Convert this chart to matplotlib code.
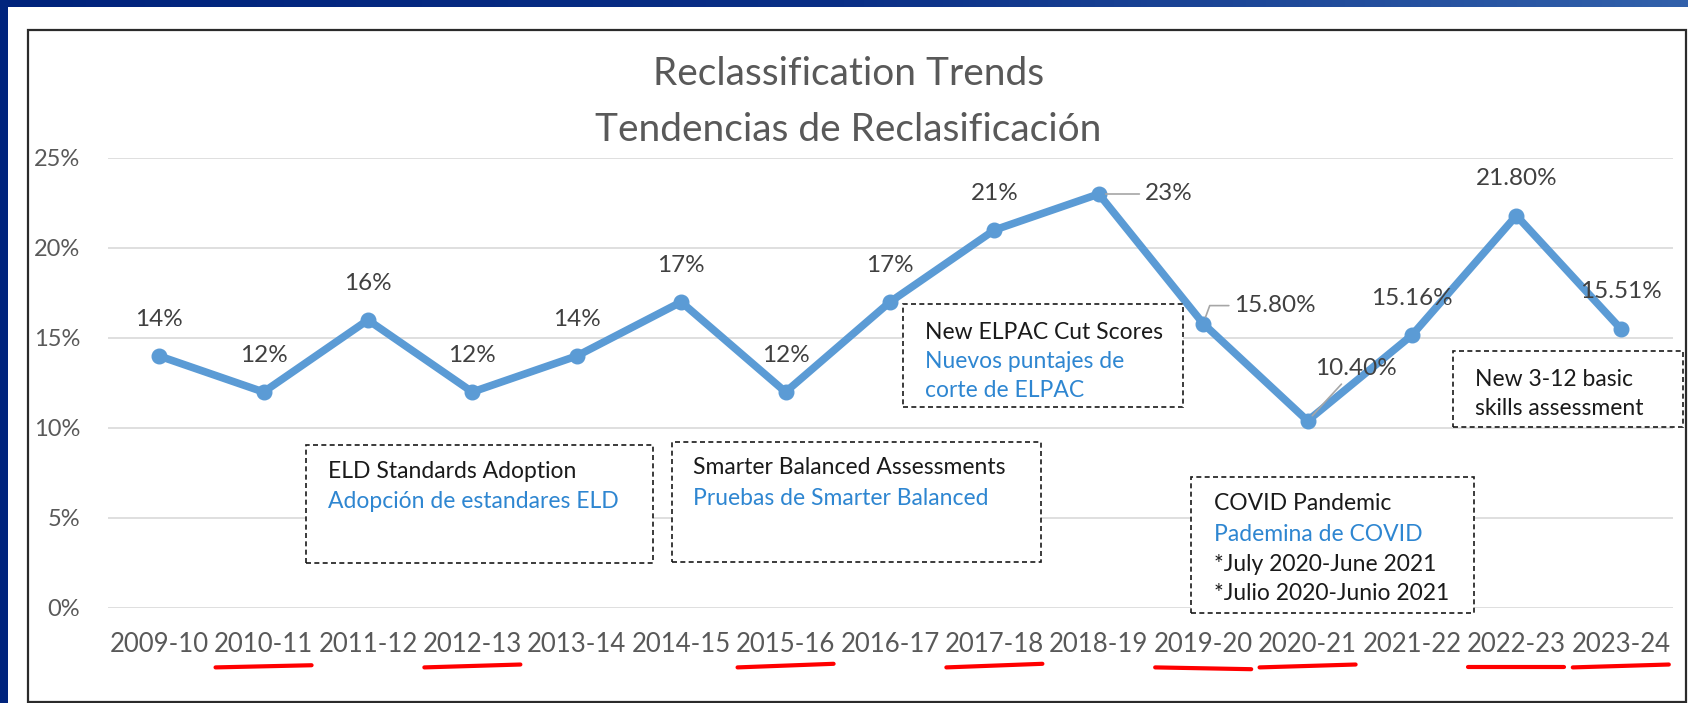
import numpy as np
import matplotlib
matplotlib.use("Agg")
import matplotlib.pyplot as plt
from matplotlib.patches import Rectangle
from matplotlib.colors import LinearSegmentedColormap

plt.rcParams['font.family'] = ['Lato', 'DejaVu Sans']

years = ["2009-10", "2010-11", "2011-12", "2012-13", "2013-14", "2014-15", "2015-16",
         "2016-17", "2017-18", "2018-19", "2019-20", "2020-21", "2021-22", "2022-23", "2023-24"]
rates = [0.14, 0.12, 0.16, 0.12, 0.14, 0.17, 0.12, 0.17, 0.21, 0.23,
         0.158, 0.104, 0.1516, 0.218, 0.1551]
rate_labels = ["14%", "12%", "16%", "12%", "14%", "17%", "12%", "17%", "21%", "23%",
               "15.80%", "10.40%", "15.16%", "21.80%", "15.51%"]
underlined = ["2010-11", "2012-13", "2015-16", "2017-18", "2019-20", "2020-21", "2022-23", "2023-24"]
yticks = [0, 0.05, 0.10, 0.15, 0.20, 0.25]

W, H = 1688, 703
fig = plt.figure(figsize=(W / 100, H / 100), dpi=100)

# background: navy border and chart frame, in pixel coords
bg = fig.add_axes([0, 0, 1, 1], zorder=0)
bg.set_xlim(0, W)
bg.set_ylim(H, 0)
bg.axis('off')
cmap = LinearSegmentedColormap.from_list('band', ['#00237c', '#0a2f86', '#3261ab'])
bg.imshow(np.linspace(0, 1, 256)[None, :], cmap=cmap, aspect='auto', extent=[0, W, 7.5, 0])
bg.add_patch(Rectangle((0, 0), 7.5, H, color='#00247d', lw=0))
bg.add_patch(Rectangle((27.5, 29.5), 1658, 672, fill=False, ec='#2b2b2b', lw=1.6))

ax = fig.add_axes([108 / W, 95 / H, 1565 / W, 450 / H], zorder=2)
ax.patch.set_alpha(0)
x = np.arange(len(years))

ax.plot(x, rates, color='#5b9bd5', lw=5.5, marker='o', ms=10.5, solid_joinstyle='round', zorder=3)
ax.set_xlim(-0.49, 14.5)
ax.set_ylim(0, 0.25)
ax.set_yticks(yticks)
ax.set_yticklabels([f"{int(round(v * 100))}%" for v in yticks])
ax.set_xticks(x)
ax.set_xticklabels(years)
ax.tick_params(axis='both', length=0, labelsize=18.5, labelcolor='#595959')
ax.tick_params(axis='y', labelsize=17, pad=20)
ax.tick_params(axis='x', pad=17)
for s in ax.spines.values():
    s.set_visible(False)
ax.grid(axis='y', color='#d9d9d9', lw=1.2)
ax.set_axisbelow(True)

# data labels (pixel offsets from the point)
offsets = {9: (70, 0), 10: (72, 18), 11: (48, 52)}
lead = {9: True, 10: True, 11: True}
for i, (v, lab) in enumerate(zip(rates, rate_labels)):
    dx, dy = offsets.get(i, (0, 37))
    kw = {}
    if i in lead:
        kw['arrowprops'] = dict(arrowstyle='-', color='#a6a6a6', lw=1.2,
                                shrinkA=2, shrinkB=5,
                                connectionstyle='angle,angleA=0,angleB=70' if i == 10 else 'arc3')
    ax.annotate(lab, (i, v), xytext=(dx, dy), textcoords='offset pixels',
                ha='center', va='center', fontsize=17.5, color='#404040', zorder=4, **kw)

ax.text(0.473, 1.124, "Reclassification Trends\nTendencias de Reclasificación",
        transform=ax.transAxes, ha='center', va='center', fontsize=28,
        color='#595959', linespacing=1.68)

# annotation boxes: (x0, x1, y0, y1), text x, lines with colours
boxes = [
    ((1.41, 4.73, 0.025, 0.0906), 1.62,
     [("ELD Standards Adoption", 0.0756, 'k'), ("Adopción de estandares ELD", 0.0589, 'b')]),
    ((4.91, 8.45, 0.0256, 0.0922), 5.11,
     [("Smarter Balanced Assessments", 0.0778, 'k'), ("Pruebas de Smarter Balanced", 0.0611, 'b')]),
    ((7.12, 9.81, 0.1117, 0.1689), 7.34,
     [("New ELPAC Cut Scores", 0.1533, 'k'), ("Nuevos puntajes de", 0.1367, 'b'),
      ("corte de ELPAC", 0.1206, 'b')]),
    ((9.88, 12.59, -0.0028, 0.0728), 10.10,
     [("COVID Pandemic", 0.0578, 'k'), ("Pademina de COVID", 0.0411, 'b'),
      ("*July 2020-June 2021", 0.0244, 'k'), ("*Julio 2020-Junio 2021", 0.0078, 'k')]),
    ((12.39, 14.6, 0.1006, 0.1428), 12.60,
     [("New 3-12 basic", 0.1272, 'k'), ("skills assessment", 0.1111, 'k')]),
]
cols = {'k': '#1a1a1a', 'b': '#2e86d1'}
for (x0, x1, y0, y1), tx, lines in boxes:
    ax.add_patch(Rectangle((x0, y0), x1 - x0, y1 - y0, fc='white', ec='#1a1a1a',
                           lw=1.2, ls=(0, (3, 2)), zorder=5, clip_on=False))
    for txt, ty, c in lines:
        ax.text(tx, ty, txt, ha='left', va='center', fontsize=16.5, color=cols[c],
                zorder=6, clip_on=False)

# red hand-drawn underlines below selected years
tilt = [0.0012, 0.0016, 0.002, 0.002, -0.001, 0.0016, 0.0, 0.0016]
for lab, t in zip(underlined, tilt):
    i = years.index(lab)
    ax.plot([i - 0.46, i + 0.46], [-0.0330, -0.0330 + t], color='#ff0000', lw=3,
            solid_capstyle='round', clip_on=False, zorder=3)

fig.savefig("out.png", dpi=100)
